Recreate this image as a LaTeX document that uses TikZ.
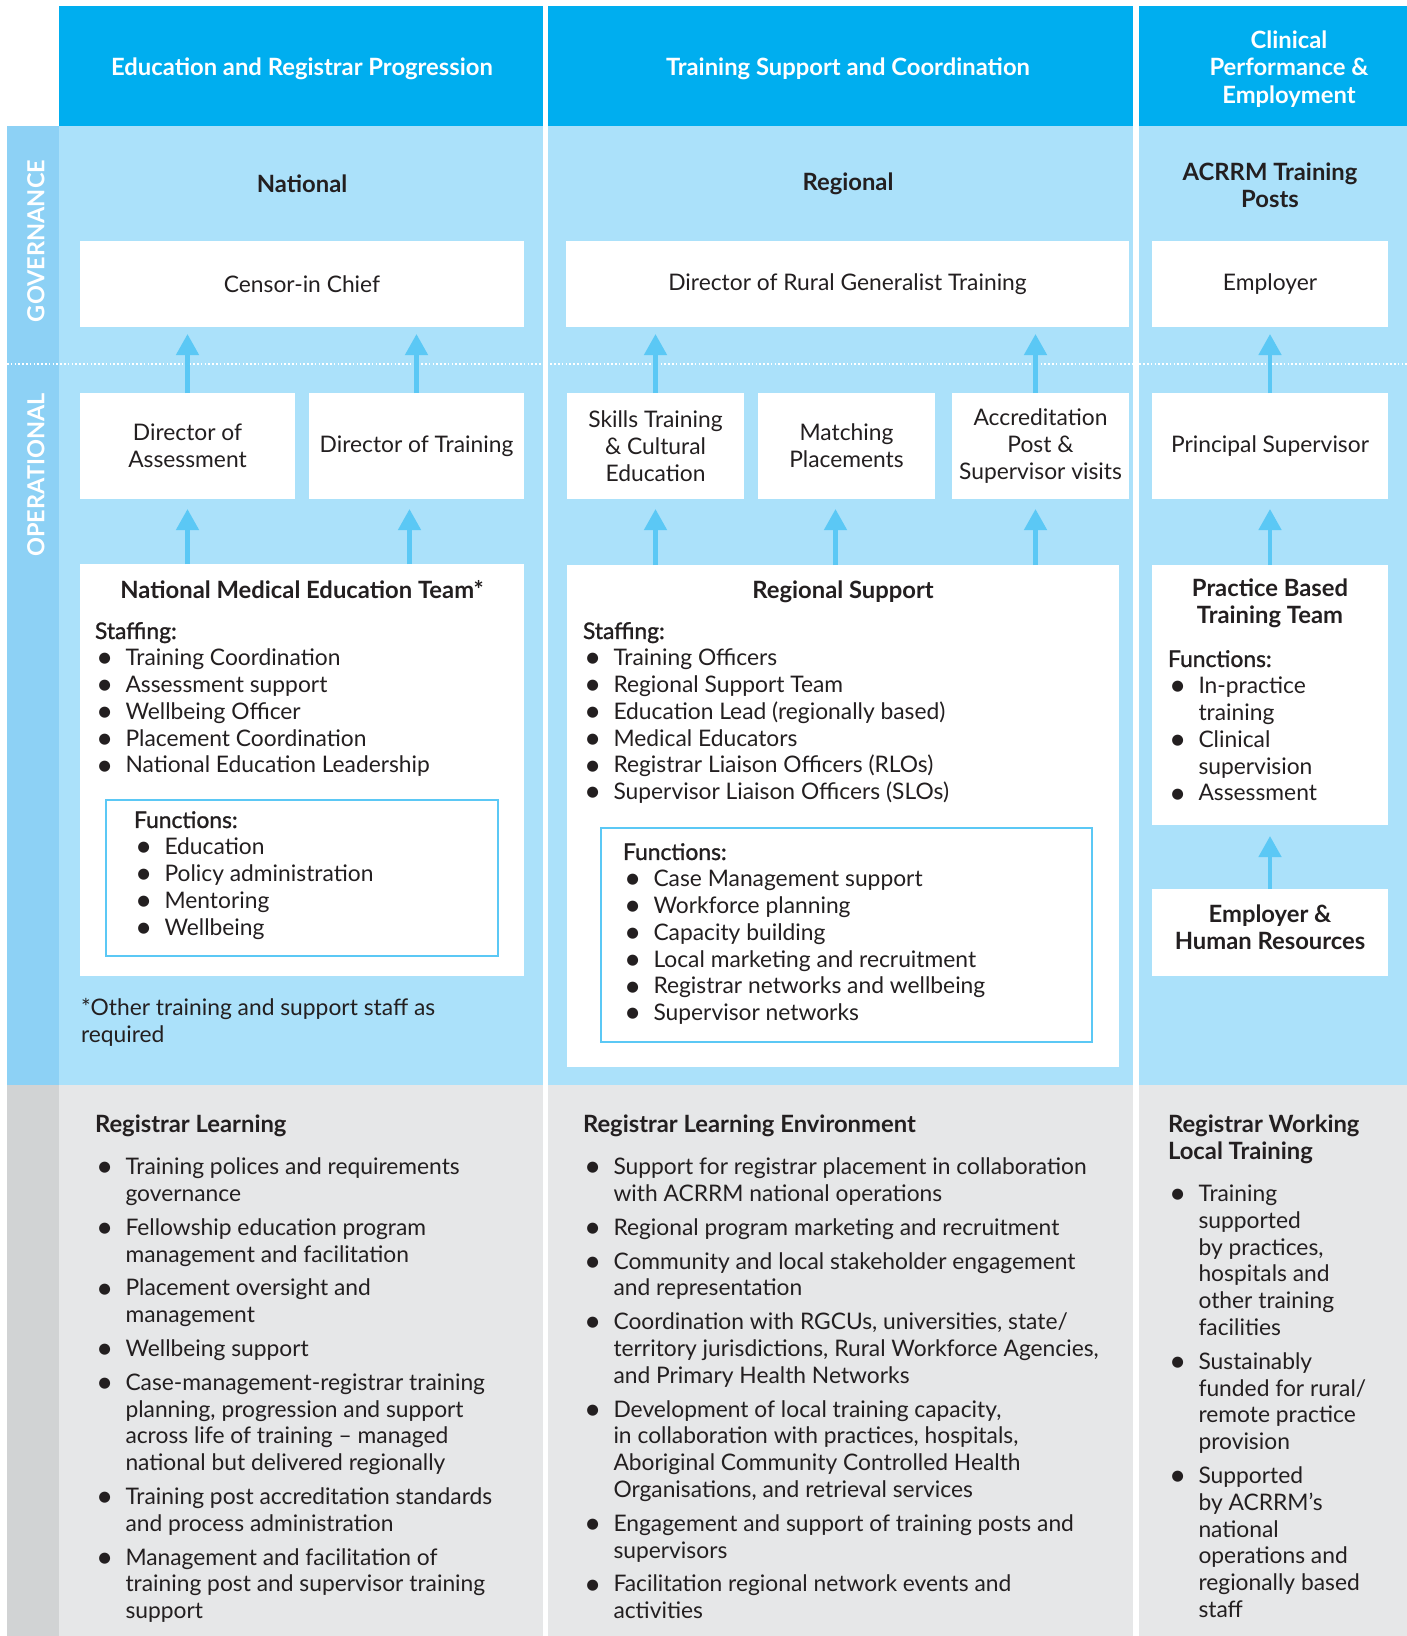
\documentclass[tikz,border=0pt]{standalone}
\usepackage{fontspec}
\setmainfont{Lato}
\newfontfamily\medfont[FakeBold=1.2]{Lato}
\usetikzlibrary{arrows.meta}
\definecolor{hdrblue}{HTML}{00AEEF}
\definecolor{bodyblue}{HTML}{ABE1FA}
\definecolor{bandblue}{HTML}{8DD1F5}
\definecolor{arrowblue}{HTML}{5BC8F5}
\definecolor{graybg}{HTML}{E6E7E8}
\definecolor{bandgray}{HTML}{D1D3D4}
\definecolor{txtc}{HTML}{231F20}
\newcommand\fs{\fontsize{22.8}{26.8}\selectfont}
\newcommand\fsb{\fontsize{23.8}{26.8}\selectfont}
\newcommand\itm{\makebox[30.5pt][l]{\hspace{1pt}\raisebox{-0.09em}{\scalebox{1.3}{\textbullet}}}}
\newcommand\cnt{\hspace*{30.5pt}}
\tikzset{
  wbox/.style={fill=white, inner sep=0pt, outer sep=0pt, text=txtc, font=\fs, align=center},
  fbox/.style={draw=arrowblue, line width=2.5pt, fill=white, inner sep=0pt},
  arr/.style={draw=arrowblue, line width=4.5pt, -{Triangle[width=22pt,length=21pt]}},
  lst/.style={inner sep=0pt, outer sep=0pt, anchor=north west, align=left, font=\fs, text=txtc},
  ttl/.style={inner sep=0pt, anchor=base, align=center, font=\bfseries\fsb, text=txtc},
  hdr/.style={inner sep=0pt, align=center, font=\bfseries\fontsize{23.8}{27.5}\selectfont, text=white},
  band/.style={inner sep=0pt, rotate=90, font=\bfseries\fontsize{23.5}{26}\selectfont, text=white}
}
\begin{document}
\begin{tikzpicture}[x=1pt, y=-1pt]
\useasboundingbox (0,0) rectangle (1407,1636);
\fill[white] (0,0) rectangle (1407,1636);
% backgrounds
\fill[hdrblue] (59,6) rectangle (1407,126);
\fill[bodyblue] (59,126) rectangle (1407,1085);
\fill[bandblue] (7,126) rectangle (59,1085);
\fill[graybg] (59,1085) rectangle (1407,1636);
\fill[bandgray] (7,1085) rectangle (59,1636);
\fill[white] (543,6) rectangle (548,1636);
\fill[white] (1133,6) rectangle (1139,1636);
\draw[white, line width=1.6pt, dash pattern=on 1.6pt off 2.2pt] (7,364) -- (1407,364);

% band labels
\node[band] (gov) at (36,241) {GOVERNANCE};
\node[band] (ope) at (36,475) {OPERATIONAL};

% headers
\node[hdr] (h1) at (302,69) {Education and Registrar Progression};
\node[hdr] (h2) at (848,69) {Training Support and Coordination};
\node[hdr] (h3) at (1289,69) {Clinical\\ Performance \&\\ Employment};

% section titles
\node[ttl, anchor=center] (t1) at (302,184) {National};
\node[ttl, anchor=center] (t2) at (848,184) {Regional};
\node[ttl, anchor=center] (t3) at (1270,185) {ACRRM Training\\ Posts};

% governance boxes
\node[wbox, minimum width=444pt, minimum height=86pt] (cic) at (302,284) {Censor-in Chief};
\node[wbox, minimum width=563pt, minimum height=86pt] (drgt) at (847.5,284) {Director of Rural Generalist Training};
\node[wbox, minimum width=236pt, minimum height=86pt] (emp) at (1270,284) {Employer};

% operational boxes
\node[wbox, minimum width=215pt, minimum height=106pt] (doa) at (187.5,446) {Director of\\ Assessment};
\node[wbox, minimum width=215pt, minimum height=106pt] (dot) at (416.5,446) {Director of Training};
\node[wbox, minimum width=177pt, minimum height=106pt] (stce) at (655.5,446) {Skills Training\\ \& Cultural\\ Education};
\node[wbox, minimum width=177pt, minimum height=106pt] (mp) at (846.5,446) {Matching\\ Placements};
\node[wbox, minimum width=177pt, minimum height=106pt] (apsv) at (1040.5,446) {Accreditation\\ Post \&\\ Supervisor visits};
\node[wbox, minimum width=236pt, minimum height=106pt] (ps) at (1270,446) {Principal Supervisor};

% big boxes
\node[wbox, minimum width=444pt, minimum height=412pt] (nmet) at (302,770) {};
\node[wbox, minimum width=552pt, minimum height=502pt] (rs) at (843,816) {};
\node[wbox, minimum width=236pt, minimum height=260pt] (pbtt) at (1270,695) {};
\node[wbox, minimum width=236pt, minimum height=87pt] (ehr) at (1270,932.5) {};

% functions boxes
\node[fbox, minimum width=392pt, minimum height=156pt] (nfb) at (302,878) {};
\node[fbox, minimum width=491pt, minimum height=214pt] (rfb) at (846.5,935) {};

% arrows governance
\draw[arr, shorten >=7pt] (doa.north) -- (doa.north |- cic.south);
\draw[arr, shorten >=7pt] (dot.north) -- (dot.north |- cic.south);
\draw[arr, shorten >=7pt] (stce.north) -- (stce.north |- drgt.south);
\draw[arr, shorten >=7pt] ([xshift=-5pt]apsv.north) -- ([xshift=-5pt]apsv.north |- drgt.south);
\draw[arr, shorten >=7pt] (ps.north) -- (emp.south);
% arrows operational
\draw[arr, shorten >=10pt] (doa.south |- nmet.north) -- (doa.south);
\draw[arr, shorten >=10pt] ([xshift=-7pt]dot.south |- nmet.north) -- ([xshift=-7pt]dot.south);
\draw[arr, shorten >=10pt] (stce.south |- rs.north) -- (stce.south);
\draw[arr, shorten >=10pt] ([xshift=-11pt]mp.south |- rs.north) -- ([xshift=-11pt]mp.south);
\draw[arr, shorten >=10pt] ([xshift=-5pt]apsv.south |- rs.north) -- ([xshift=-5pt]apsv.south);
\draw[arr, shorten >=10pt] (pbtt.north) -- (ps.south);
\draw[arr, shorten >=11pt] (ehr.north) -- (pbtt.south);

% NMET content
\node[ttl] (nmett) at (302,598) {National Medical Education Team*};
\node[lst] (nmets) at (95,620.2) {\strut{\medfont Staffing:}\\
\itm Training Coordination\\
\itm Assessment support\\
\itm Wellbeing Officer\\
\itm Placement Coordination\\
\itm National Education Leadership};
\node[lst] (nmetf) at (134,809.2) {\strut{\medfont Functions:}\\
\itm Education\\
\itm Policy administration\\
\itm Mentoring\\
\itm Wellbeing};
\node[lst] (foot) at (81,997.2) {\strut*Other training and support staff as\\required};

% Regional Support content
\node[ttl] (rst) at (843,598) {Regional Support};
\node[lst] (rss) at (583,620.2) {\strut{\medfont Staffing:}\\
\itm Training Officers\\
\itm Regional Support Team\\
\itm Education Lead (regionally based)\\
\itm Medical Educators\\
\itm Registrar Liaison Officers (RLOs)\\
\itm Supervisor Liaison Officers (SLOs)};
\node[lst] (rsf) at (623,841.2) {\strut{\medfont Functions:}\\
\itm Case Management support\\
\itm Workforce planning\\
\itm Capacity building\\
\itm Local marketing and recruitment\\
\itm Registrar networks and wellbeing\\
\itm Supervisor networks};

% Practice based content
\node[ttl, anchor=center] (pbt) at (1270,603.5) {Practice Based\\ Training Team};
\node[lst] (pbf) at (1168,648.2) {\strut{\medfont Functions:}\\
\itm In-practice\\
\cnt training\\
\itm Clinical\\
\cnt supervision\\
\itm Assessment};
\node[ttl, anchor=center] (ehrt) at (1270,927) {Employer \&\\ Human Resources};

% bottom section
\node[lst] (rl) at (95,1114.2) {\strut{\bfseries\fsb Registrar Learning}\\[15pt]
\itm Training polices and requirements\\
\cnt governance\\[7pt]
\itm Fellowship education program\\
\cnt management and facilitation\\[7pt]
\itm Placement oversight and\\
\cnt management\\[7pt]
\itm Wellbeing support\\[7pt]
\itm Case-management-registrar training\\
\cnt planning, progression and support\\
\cnt across life of training -- managed\\
\cnt national but delivered regionally\\[7pt]
\itm Training post accreditation standards\\
\cnt and process administration\\[7pt]
\itm Management and facilitation of\\
\cnt training post and supervisor training\\
\cnt support};

\node[lst] (rle) at (583,1114.2) {\strut{\bfseries\fsb Registrar Learning Environment}\\[15pt]
\itm Support for registrar placement in collaboration\\
\cnt with ACRRM national operations\\[7pt]
\itm Regional program marketing and recruitment\\[7pt]
\itm Community and local stakeholder engagement\\
\cnt and representation\\[7pt]
\itm Coordination with RGCUs, universities, state/\\
\cnt territory jurisdictions, Rural Workforce Agencies,\\
\cnt and Primary Health Networks\\[7pt]
\itm Development of local training capacity,\\
\cnt in collaboration with practices, hospitals,\\
\cnt Aboriginal Community Controlled Health\\
\cnt Organisations, and retrieval services\\[7pt]
\itm Engagement and support of training posts and\\
\cnt supervisors\\[7pt]
\itm Facilitation regional network events and\\
\cnt activities};

\node[lst] (rwl) at (1168,1114.2) {\strut{\bfseries\fsb Registrar Working}\\
{\bfseries\fsb Local Training}\\[15pt]
\itm Training\\
\cnt supported\\
\cnt by practices,\\
\cnt hospitals and\\
\cnt other training\\
\cnt facilities\\[7pt]
\itm Sustainably\\
\cnt funded for rural/\\
\cnt remote practice\\
\cnt provision\\[7pt]
\itm Supported\\
\cnt by ACRRM’s\\
\cnt national\\
\cnt operations and\\
\cnt regionally based\\
\cnt staff};
\end{tikzpicture}
\end{document}
